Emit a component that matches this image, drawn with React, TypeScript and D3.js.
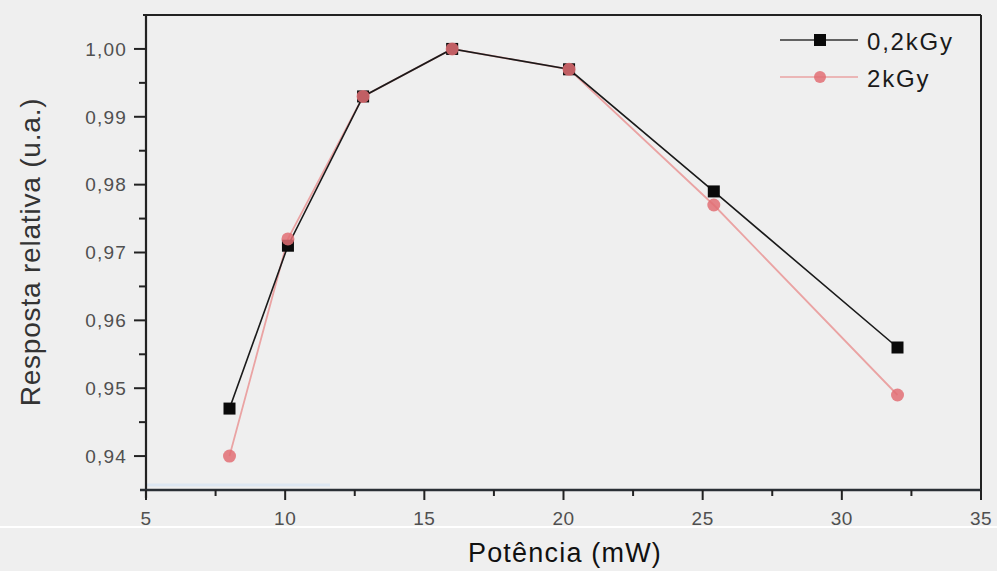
import React from "react";
import * as d3 from "d3";

const power = [8, 10.1, 12.8, 16, 20.2, 25.4, 32];
const series02 = [0.947, 0.971, 0.993, 1.0, 0.997, 0.979, 0.956];
const series2 = [0.94, 0.972, 0.993, 1.0, 0.997, 0.977, 0.949];
const xTicks = [5, 10, 15, 20, 25, 30, 35];
const yTicks = [0.94, 0.95, 0.96, 0.97, 0.98, 0.99, 1.0];
const seriesNames = ["0,2kGy", "2kGy"];

const W = 997;
const H = 571;
const L = 146, R = 981, T = 15, B = 490;

export default function App() {
  const x = d3.scaleLinear().domain([5, 35]).range([L, R]);
  const y = d3.scaleLinear().domain([0.935, 1.005]).range([B, T]);
  const line = d3
    .line<[number, number]>()
    .x((d) => x(d[0]))
    .y((d) => y(d[1]));
  const d02 = power.map((p, i) => [p, series02[i]] as [number, number]);
  const d2 = power.map((p, i) => [p, series2[i]] as [number, number]);
  const xMinor = d3.range(7.5, 35, 5);
  const yMinor = d3.range(0.945, 1.004, 0.01);
  const font = "'Liberation Sans', Arial, sans-serif";
  const pink = "#e26f74";
  const pinkLine = "#eaa3a3";

  return (
    <svg
      width={W}
      height={H}
      style={{ position: "absolute", left: 0, top: 0 }}
      fontFamily={font}
    >
      <rect x={0} y={0} width={W} height={H} fill="#efefef" />
      <line x1={0} x2={W} y1={527} y2={527} stroke="#ffffff" strokeWidth={2} />
      {/* faint blue artefact near bottom axis */}
      <line x1={L} x2={330} y1={485} y2={485} stroke="#dde7f2" strokeWidth={3} />
      {/* frame */}
      <line x1={L - 3} x2={R} y1={T} y2={T} stroke="#222" strokeWidth={2} />
      <line x1={R} x2={R} y1={T} y2={B + 4} stroke="#222" strokeWidth={2} />
      <line x1={L} x2={L} y1={T} y2={B + 8} stroke="#222" strokeWidth={2.2} />
      <line x1={L - 6} x2={R} y1={B} y2={B} stroke="#2a2f35" strokeWidth={2.4} />
      {/* y ticks */}
      {yTicks.map((t) => (
        <g key={"y" + t}>
          <line x1={L - 12} x2={L} y1={y(t)} y2={y(t)} stroke="#222" strokeWidth={2} />
          <text
            x={L - 19}
            y={y(t)}
            dy="0.36em"
            textAnchor="end"
            fontSize={19}
            letterSpacing={1.2}
            fill="#505050"
          >
            {d3.format(".2f")(t).replace(".", ",")}
          </text>
        </g>
      ))}
      {yMinor.map((t) => (
        <line key={"ym" + t} x1={L - 7} x2={L} y1={y(t)} y2={y(t)} stroke="#222" strokeWidth={2} />
      ))}
      {/* x ticks */}
      {xTicks.map((t) => (
        <g key={"x" + t}>
          <line x1={x(t)} x2={x(t)} y1={B} y2={B + 10} stroke="#222" strokeWidth={2} />
          <text x={x(t)} y={525} textAnchor="middle" fontSize={19} letterSpacing={0.5} fill="#505050">
            {t}
          </text>
        </g>
      ))}
      {xMinor.map((t) => (
        <line key={"xm" + t} x1={x(t)} x2={x(t)} y1={B} y2={B + 6} stroke="#222" strokeWidth={2} />
      ))}
      {/* series lines */}
      <path d={line(d2) || ""} fill="none" stroke={pinkLine} strokeWidth={1.8} />
      <path d={line(d02) || ""} fill="none" stroke="#1a1a1a" strokeWidth={1.6} />
      {d02.map((d, i) => (
        <rect
          key={"s" + i}
          x={x(d[0]) - 6}
          y={y(d[1]) - 6}
          width={12}
          height={12}
          fill="#0a0a0a"
        />
      ))}
      {d2.map((d, i) => (
        <circle
          key={"c" + i}
          cx={x(d[0])}
          cy={y(d[1])}
          r={6.5}
          fill={pink}
          fillOpacity={0.85}
        />
      ))}
      {/* legend */}
      <line x1={780} x2={858} y1={40} y2={40} stroke="#333" strokeWidth={1.5} />
      <rect x={814} y={34} width={12} height={12} fill="#0a0a0a" />
      <text x={867} y={41} dy="0.36em" fontSize={24} letterSpacing={1.8} fill="#1a1a1a">
        {seriesNames[0]}
      </text>
      <line x1={780} x2={858} y1={77} y2={77} stroke={pinkLine} strokeWidth={1.5} />
      <circle cx={820} cy={77} r={6} fill={pink} fillOpacity={0.85} />
      <text x={867} y={78} dy="0.36em" fontSize={24} letterSpacing={1.8} fill="#1a1a1a">
        {seriesNames[1]}
      </text>
      {/* axis titles */}
      <text
        transform={`translate(40, 252) rotate(-90)`}
        textAnchor="middle"
        fontSize={28}
        letterSpacing={0.8}
        fill="#333"
      >
        Resposta relativa (u.a.)
      </text>
      <text x={565} y={562} textAnchor="middle" fontSize={27} letterSpacing={1.2} fill="#111">
        Potência (mW)
      </text>
    </svg>
  );
}
